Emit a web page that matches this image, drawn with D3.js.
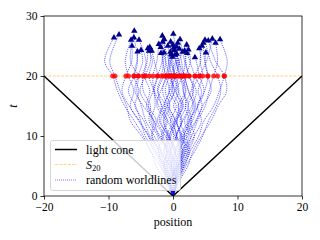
<!DOCTYPE html>
<html><head><meta charset="utf-8">
<script src="https://cdn.jsdelivr.net/npm/d3@7"></script>
<style>html,body{margin:0;padding:0;background:#fff;}svg{display:block;font-family:"Liberation Serif","DejaVu Serif",serif;}</style>
</head><body>
<script>
// t grid for worldline samples (before the final endpoint)
const tGrid = [0, 2.5, 5, 7.5, 10, 12.5, 15, 17.5, 20, 22.5];
// x positions of each worldline on tGrid
const worldlineX = [
  [0,-0.8,-2.0,-3.5,-4.6,-6.0,-7.5,-8.6,-9.35,-10.6],
  [0,-1.2,-2.6,-3.4,-4.9,-6.6,-7.2,-8.2,-9.0,-9.8],
  [0,-0.5,-1.6,-3.0,-3.8,-5.2,-6.8,-7.9,-7.3,-6.4],
  [0,-1.0,-1.4,-2.8,-4.3,-5.0,-5.8,-6.9,-6.05,-5.5],
  [0,0.3,-0.9,-1.8,-2.9,-4.2,-4.9,-5.6,-5.4,-6.6],
  [0,-0.6,-1.9,-2.2,-3.6,-4.5,-5.9,-5.3,-6.05,-5.6],
  [0,0.5,-0.4,-1.9,-2.4,-3.7,-3.5,-4.6,-4.7,-4.2],
  [0,-0.9,-0.6,-2.2,-3.3,-3.1,-4.6,-5.9,-5.4,-4.7],
  [0,0.2,-1.3,-0.9,-2.0,-3.4,-2.8,-3.0,-3.7,-3.2],
  [0,-0.4,0.5,-0.6,-1.5,-0.9,-2.2,-2.9,-2.4,-2.9],
  [0,0.6,-0.3,0.4,-0.8,-1.9,-1.2,-2.4,-1.8,-1.5],
  [0,-0.3,-1.1,-2.3,-1.6,-2.9,-3.8,-3.1,-2.4,-1.7],
  [0,0.5,1.2,0.6,-0.5,0.3,-0.8,-1.6,-1.1,-0.7],
  [0,-0.6,-0.2,-1.4,-0.8,-2.1,-1.5,-0.6,-1.1,-1.6],
  [0,0.4,-0.5,0.2,1.1,0.4,-0.6,0.2,-0.6,-1.1],
  [0,-0.2,0.7,1.5,0.6,1.3,0.1,0.9,0.4,-0.4],
  [0,0.3,0.9,0.2,-0.7,-1.4,-0.5,-1.2,-0.6,-0.3],
  [0,0.5,0.0,0.9,1.8,1.1,2.0,1.6,1.1,0.4],
  [0,0.4,1.0,1.9,2.8,2.2,3.1,2.4,1.75,0.9],
  [0,-0.5,-1.1,-0.4,-1.0,0.2,0.9,-0.1,0.4,0.9],
  [0,0.2,0.6,-0.2,0.5,1.4,0.8,1.9,1.1,0.7],
  [0,-0.3,0.4,1.0,0.3,-0.4,0.5,-0.6,0.0,0.6],
  [0,0.1,-0.6,-1.3,-0.6,-1.5,-0.9,0.2,-0.3,0.4],
  [0,0.6,1.4,2.2,1.5,2.6,3.3,2.4,1.75,1.3],
  [0,0.3,1.3,0.8,1.9,2.9,2.3,3.2,2.5,1.8],
  [0,-0.2,0.5,1.4,2.5,1.8,2.9,3.6,2.5,2.0],
  [0,0.4,1.5,2.4,1.7,3.0,3.8,4.4,3.4,2.6],
  [0,0.7,1.2,2.4,3.3,2.7,3.9,4.8,4.1,3.6],
  [0,0.2,0.9,0.4,1.6,2.5,1.9,2.8,3.4,4.3],
  [0,0.5,1.7,2.6,2.1,3.5,4.6,5.9,5.4,4.9],
  [0,0.9,2.0,3.4,4.6,5.5,6.7,7.4,6.9,5.8],
  [0,0.4,1.1,2.1,3.3,4.4,3.8,4.9,5.4,5.0],
  [0,1.0,2.3,3.1,4.4,5.9,7.0,8.3,7.95,6.6],
  [0,-0.4,0.6,1.7,1.2,2.4,3.5,3.0,4.1,5.2],
  [0,0.7,1.8,2.7,4.0,4.8,6.3,7.2,7.95,8.4],
  [0,0.3,-0.3,0.5,1.3,0.6,1.5,0.4,0.8,0.5],
  [0,-0.1,0.6,0.2,-0.5,0.4,1.2,2.0,1.4,1.0],
  [0,-0.4,0.2,-0.7,0.1,-0.8,-1.7,-2.3,-1.5,-1.2],
  [0,0.5,0.1,1.1,0.5,1.5,2.4,1.6,2.0,2.7],
  [0,0.2,0.8,1.4,0.6,0.0,-0.9,-0.2,-0.2,-0.7],
  [0,-0.7,-1.5,-1.0,-2.2,-3.0,-4.1,-3.6,-4.4,-4.0],
  [0,0.6,1.6,1.0,2.3,3.6,4.5,3.9,4.6,4.2],
  [0,-0.2,-0.9,-0.3,-1.2,-2.4,-1.8,-2.9,-3.1,-2.5],
  [0,0.3,0.9,1.9,1.3,0.6,1.6,0.8,0.2,0.0],
  [0,-0.5,-1.3,-2.0,-3.2,-2.6,-3.9,-5.1,-4.3,-3.5],
  [0,0.4,-0.2,-1.0,-0.3,0.6,1.3,0.5,1.5,1.9],
  [0,0.2,0.8,1.6,2.9,3.8,5.0,5.6,6.3,6.9],
  [0,-0.3,0.3,-0.4,0.5,-0.3,-1.3,-0.5,0.2,-0.2],
  [0,0.5,0.0,-0.9,-1.8,-1.1,-2.5,-1.9,-0.9,-0.5],
  [0,-0.6,-1.5,-2.6,-3.8,-5.3,-6.6,-6.1,-6.9,-7.4]
];
// final endpoints (triangles)
const endX = [-9.15,-8.37,-6.36,-6.05,-6.0,-5.5,-5.27,-4.96,-3.72,-3.3,-1.86,-1.66,-1.6,-1.4,-1.35,-0.36,-0.1,0.0,0.05,0.2,0.57,0.57,0.73,0.98,1.09,2.12,2.2,3.4,4.08,4.7,4.96,5.1,5.47,6.1,7.3,0.3,1.5,-1.9,2.4,-0.4,-3.9,4.5,-2.2,-0.3,-3.6,1.8,6.6,0.1,-0.8,-6.5];
const endT = [26.4,26.9,25.0,26.4,27.5,24.05,26.0,24.3,24.2,24.2,23.8,26.7,25.7,23.9,26.1,25.7,23.2,25.2,27.0,24.3,24.9,23.7,25.5,24.5,26.1,25.2,23.8,23.1,24.6,25.5,26.0,23.9,25.9,26.2,26.1,23.5,24.0,24.8,24.4,24.0,24.6,25.0,25.3,23.6,24.8,24.2,25.5,24.7,25.0,26.0];
const sliceT = 20;
const xTicks = [-20,-10,0,10,20];
const yTicks = [0,10,20,30];
const legendLabels = ["light cone", "S", "random worldlines"];

const W = 320, H = 240;
const m = {l:44, r:18, t:16, b:44};
const svg = d3.select("body").append("svg").attr("width", W).attr("height", H);
const x = d3.scaleLinear().domain([-20,20]).range([m.l, W - m.r]);
const y = d3.scaleLinear().domain([0,30]).range([H - m.b, m.t]);
const font = "Liberation Serif, DejaVu Serif, serif";

svg.append("clipPath").attr("id","clip").append("rect")
  .attr("x", m.l).attr("y", m.t).attr("width", W-m.l-m.r).attr("height", H-m.t-m.b);
const g = svg.append("g").attr("clip-path","url(#clip)");

const line = d3.line().x(d=>x(d[0])).y(d=>y(d[1]));
// slice
g.append("path").datum([[-20,sliceT],[20,sliceT]]).attr("d", line)
  .attr("fill","none").attr("stroke","orange").attr("stroke-opacity",0.5)
  .attr("stroke-width",1).attr("stroke-dasharray","3,1.3");
// worldlines
const curve = d3.line().x(d=>x(d[0])).y(d=>y(d[1])).curve(d3.curveCatmullRom);
worldlineX.forEach((xs,i)=>{
  const pts = xs.map((v,j)=>[v,tGrid[j]]);
  pts.push([endX[i], endT[i]]);
  g.append("path").datum(pts).attr("d", curve)
    .attr("fill","none").attr("stroke","blue").attr("stroke-opacity",0.7)
    .attr("stroke-width",0.9).attr("stroke-dasharray","1,1");
});
// light cone
g.append("path").datum([[-20,20],[0,0],[20,20]]).attr("d", line)
  .attr("fill","none").attr("stroke","#000").attr("stroke-width",1.5);
// red dots at slice
g.selectAll("circle.s").data(worldlineX).enter().append("circle")
  .attr("cx", d=>x(d[8])).attr("cy", y(sliceT)).attr("r",2.5)
  .attr("fill","red").attr("fill-opacity",0.8);
// triangles
const tri = d3.symbol().type(d3.symbolTriangle).size(18);
g.selectAll("path.tri").data(endX).enter().append("path")
  .attr("d", tri).attr("transform",(d,i)=>`translate(${x(d)},${y(endT[i])})`)
  .attr("fill","#00008b");

// axes
const xa = svg.append("g").attr("transform",`translate(0,${H-m.b})`)
  .call(d3.axisBottom(x).tickValues(xTicks).tickSize(3.5).tickPadding(3).tickFormat(d=>d<0?"\u2212"+Math.abs(d):d));
const ya = svg.append("g").attr("transform",`translate(${m.l},0)`)
  .call(d3.axisLeft(y).tickValues(yTicks).tickSize(3.5).tickPadding(3));
[xa,ya].forEach(a=>{
  a.attr("font-family", null).attr("font-size", null);
  a.selectAll("text").style("font-family",font).style("font-size","11.5px").attr("fill","#000");
  a.selectAll("line").attr("stroke","#000").attr("stroke-width",0.8);
  a.select(".domain").remove();
});
svg.append("rect").attr("x",m.l).attr("y",m.t).attr("width",W-m.l-m.r).attr("height",H-m.t-m.b)
  .attr("fill","none").attr("stroke","#000").attr("stroke-width",0.8);

svg.append("text").attr("x",(m.l+W-m.r)/2).attr("y",226).attr("text-anchor","middle")
  .style("font-family",font).style("font-size","12px").text("position");
svg.append("text").attr("transform",`translate(17,${(m.t+H-m.b)/2}) rotate(-90)`)
  .attr("text-anchor","middle").style("font-family",font).attr("font-style","italic")
  .style("font-size","12px").text("t");

// legend
const lg = svg.append("g");
lg.append("rect").attr("x",50.5).attr("y",140.5).attr("width",130).attr("height",50).attr("rx",2.5)
  .attr("fill","#fff").attr("fill-opacity",0.8).attr("stroke","#ccc").attr("stroke-width",0.8);
const rows = [149.5,164.5,180];
const styles = [
  {stroke:"#000", w:1.5, dash:null, op:1},
  {stroke:"orange", w:1, dash:"3,1.3", op:0.5},
  {stroke:"blue", w:0.9, dash:"1,1", op:0.6}
];
legendLabels.forEach((lab,i)=>{
  const s = styles[i];
  lg.append("line").attr("x1",55).attr("x2",77).attr("y1",rows[i]).attr("y2",rows[i])
    .attr("stroke",s.stroke).attr("stroke-width",s.w).attr("stroke-opacity",s.op)
    .attr("stroke-dasharray",s.dash);
  const t = lg.append("text").attr("x",86).attr("y",rows[i]+4).style("font-family",font).style("font-size","12px");
  if (i===1) {
    t.append("tspan").attr("font-style","italic").text(lab);
    t.append("tspan").style("font-size","8.5px").attr("dy",2.5).text(String(sliceT));
  } else t.text(lab);
});
</script>
</body></html>
